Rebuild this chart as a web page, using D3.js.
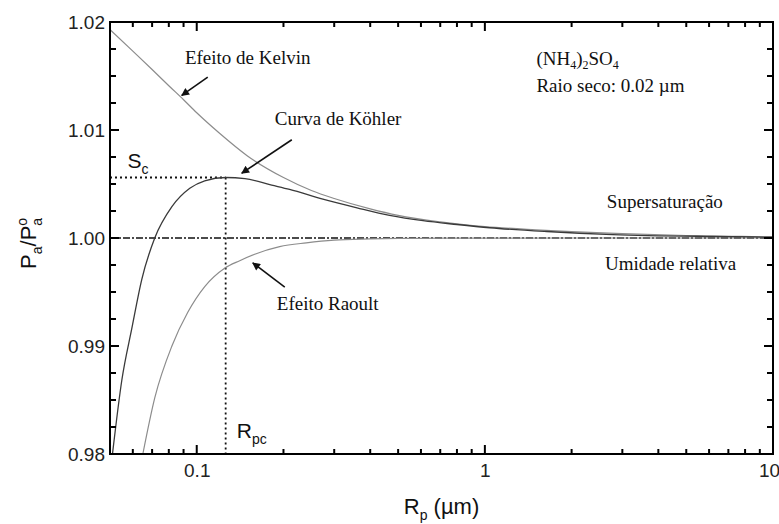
<!DOCTYPE html>
<html lang="pt">
<head>
  <meta charset="UTF-8">
  <title>Curva de Köhler</title>
  <style>
    body { margin: 0; background: #fff; }
    .axis path, .axis line { display: none; }
    .axis text { font-family: Arial, "Liberation Sans", sans-serif; font-size: 19px; fill: #222; }
    .note { font-family: "Times New Roman", "Liberation Serif", serif; font-size: 19px; fill: #111; }
    .sans { font-family: Arial, "Liberation Sans", sans-serif; fill: #111; }
  </style>
</head>
<body>
  <svg width="779" height="524"></svg>

  <script src="https://d3js.org/d3.v7.min.js"></script>
  <script>
    // raio da gota (µm) e razão de saturação
    const kelvinR = [0.05, 0.06, 0.07, 0.08, 0.09, 0.1, 0.12, 0.15, 0.2, 0.25, 0.3, 0.4, 0.5, 0.7, 1, 1.5, 2, 3, 5, 7, 10];
    const kelvinS = [1.0193, 1.0173, 1.0156, 1.0141, 1.0128, 1.0116, 1.0097, 1.0076, 1.0056, 1.0044, 1.00366, 1.0027, 1.0021, 1.0015, 1.00106, 1.00076, 1.00059, 1.00041, 1.00023, 1.00016, 1.0001];

    const kohlerR = [0.051, 0.055, 0.0595, 0.0645, 0.0715, 0.082, 0.0946, 0.1066, 0.126, 0.147, 0.182, 0.21, 0.274, 0.36, 0.467, 0.61, 0.8, 1.04, 1.64, 2.78, 6.2, 10];
    const kohlerS = [0.9800, 0.9869, 0.9916, 0.9962, 1.0000, 1.0029, 1.0046, 1.0053, 1.0056, 1.0055, 1.0049, 1.0045, 1.0036, 1.0028, 1.0021, 1.0016, 1.00125, 1.00095, 1.0006, 1.00032, 1.00014, 1.00008];

    const raoultR = [0.065, 0.0715, 0.082, 0.093, 0.1066, 0.125, 0.141, 0.159, 0.194, 0.24, 0.3, 0.4, 0.5, 0.7, 1, 2, 10];
    const raoultS = [0.9800, 0.9852, 0.9900, 0.9931, 0.9955, 0.9972, 0.9979, 0.9985, 0.9992, 0.99955, 0.9998, 0.99991, 0.99996, 0.99998, 0.999995, 1.0, 1.0];

    // ponto crítico
    const critical = { r: 0.126, s: 1.0056 };

    const xMajor = [0.1, 1, 10];
    const xMinor = [0.06, 0.07, 0.08, 0.09, 0.2, 0.3, 0.4, 0.5, 0.6, 0.7, 0.8, 0.9, 2, 3, 4, 5, 6, 7, 8, 9];
    const yMajor = [0.98, 0.99, 1.00, 1.01, 1.02];
    const yMinor = [0.9825, 0.985, 0.9875, 0.9925, 0.995, 0.9975, 1.0025, 1.005, 1.0075, 1.0125, 1.015, 1.0175];

    const mLeft = 110, mRight = 773, mTop = 22, mBottom = 454;

    const svg = d3.select("svg");
    const x = d3.scaleLog().domain([0.05, 10]).range([mLeft, mRight]);
    const y = d3.scaleLinear().domain([0.98, 1.02]).range([mBottom, mTop]);

    // rótulos dos eixos
    svg.append("g").attr("class", "axis")
       .attr("transform", `translate(0,${mBottom})`)
       .call(d3.axisBottom(x).tickValues(xMajor).tickSize(0).tickPadding(10).tickFormat(d3.format("")))
       .selectAll("text").attr("dx", d => d === 10 ? -4 : 0);
    svg.append("g").attr("class", "axis")
       .attr("transform", `translate(${mLeft},0)`)
       .call(d3.axisLeft(y).tickValues(yMajor).tickSize(0).tickPadding(5).tickFormat(d3.format(".2f")));

    svg.append("clipPath").attr("id", "clip")
       .append("rect").attr("x", mLeft).attr("y", mTop).attr("width", mRight - mLeft).attr("height", mBottom - mTop);
    const plot = svg.append("g").attr("clip-path", "url(#clip)");

    // linha S = 1
    plot.append("line")
        .attr("x1", x(0.05)).attr("x2", x(10))
        .attr("y1", y(1)).attr("y2", y(1))
        .attr("stroke", "#111").attr("stroke-width", 1.5)
        .attr("stroke-dasharray", "7,2,2,2");

    // linhas pontilhadas do ponto crítico
    plot.append("line")
        .attr("x1", x(0.05)).attr("x2", x(critical.r))
        .attr("y1", y(critical.s)).attr("y2", y(critical.s))
        .attr("stroke", "#111").attr("stroke-width", 1.8).attr("stroke-dasharray", "2,3");
    plot.append("line")
        .attr("x1", x(critical.r)).attr("x2", x(critical.r))
        .attr("y1", y(critical.s)).attr("y2", y(0.98))
        .attr("stroke", "#111").attr("stroke-width", 1.8).attr("stroke-dasharray", "2,3");

    const line = d3.line().x(d => x(d[0])).y(d => y(d[1])).curve(d3.curveMonotoneX);
    const series = [
      { r: kelvinR, s: kelvinS, color: "#8c8c8c", w: 1.2 },
      { r: raoultR, s: raoultS, color: "#8c8c8c", w: 1.2 },
      { r: kohlerR, s: kohlerS, color: "#3a3a3a", w: 1.3 }
    ];
    plot.selectAll("path.curve")
        .data(series)
        .join("path")
        .attr("class", "curve")
        .attr("fill", "none")
        .attr("stroke", d => d.color)
        .attr("stroke-width", d => d.w)
        .attr("d", d => line(d.r.map((v, i) => [v, d.s[i]])));

    // setas
    svg.append("defs").append("marker")
       .attr("id", "arrow")
       .attr("viewBox", "0 0 10 10")
       .attr("refX", 9).attr("refY", 5)
       .attr("markerUnits", "userSpaceOnUse")
       .attr("markerWidth", 11).attr("markerHeight", 8)
       .attr("orient", "auto")
       .append("path").attr("d", "M0,0L10,5L0,10Z").attr("fill", "#111");

    const arrows = [
      { from: [0.1092, 1.0149], to: [0.0887, 1.0132] },
      { from: [0.2138, 1.0091], to: [0.1433, 1.0060] },
      { from: [0.2021, 0.99546], to: [0.1565, 0.99769] }
    ];
    svg.append("g").selectAll("line")
       .data(arrows)
       .join("line")
       .attr("x1", d => x(d.from[0])).attr("y1", d => y(d.from[1]))
       .attr("x2", d => x(d.to[0])).attr("y2", d => y(d.to[1]))
       .attr("stroke", "#111").attr("stroke-width", 1.6)
       .attr("marker-end", "url(#arrow)");

    // textos
    const notes = [
      { t: "Efeito de Kelvin", r: 0.091, s: 1.0161 },
      { t: "Curva de Köhler", r: 0.1866, s: 1.01046 },
      { t: "Efeito Raoult", r: 0.1896, s: 0.99333 },
      { t: "Supersaturação", r: 2.65, s: 1.0028 },
      { t: "Umidade relativa", r: 2.61, s: 0.99704 },
      { t: "Raio seco: 0.02 µm", r: 1.51, s: 1.0135 }
    ];
    svg.append("g").selectAll("text")
       .data(notes)
       .join("text")
       .attr("class", "note")
       .attr("x", d => x(d.r)).attr("y", d => y(d.s))
       .text(d => d.t);

    const nh = svg.append("text").attr("class", "note")
       .attr("x", x(1.51)).attr("y", y(1.016));
    nh.append("tspan").text("(NH");
    nh.append("tspan").attr("font-size", 12).attr("dy", 4).text("4");
    nh.append("tspan").attr("dy", -4).text(")");
    nh.append("tspan").attr("font-size", 12).attr("dy", 4).text("2");
    nh.append("tspan").attr("dy", -4).text("SO");
    nh.append("tspan").attr("font-size", 12).attr("dy", 4).text("4");

    const sc = svg.append("text").attr("class", "sans").attr("font-size", 21)
       .attr("x", x(0.0575)).attr("y", y(1.0065));
    sc.append("tspan").text("S");
    sc.append("tspan").attr("font-size", 14).attr("dy", 6).text("c");

    const rpc = svg.append("text").attr("class", "sans").attr("font-size", 21)
       .attr("x", x(0.1377)).attr("y", y(0.98148));
    rpc.append("tspan").text("R");
    rpc.append("tspan").attr("font-size", 14).attr("dy", 6).text("pc");

    // títulos dos eixos
    const xt = svg.append("text").attr("class", "sans").attr("font-size", 22)
       .attr("text-anchor", "middle")
       .attr("x", (mLeft + mRight) / 2).attr("y", 514);
    xt.append("tspan").text("R");
    xt.append("tspan").attr("font-size", 14).attr("dy", 6).text("p");
    xt.append("tspan").attr("dy", -6).text(" (µm)");

    const yt = svg.append("text").attr("class", "sans").attr("font-size", 22)
       .attr("text-anchor", "middle")
       .attr("transform", `translate(36,${y(0.9995)}) rotate(-90)`);
    yt.append("tspan").text("P");
    yt.append("tspan").attr("font-size", 14).attr("dy", 6).text("a");
    yt.append("tspan").attr("dy", -6).text("/P");
    yt.append("tspan").attr("font-size", 14).attr("dy", -9).text("o");
    yt.append("tspan").attr("font-size", 14).attr("dx", -8).attr("dy", 15).text("a");

    // ticks para dentro nos quatro lados (desenhados por último)
    const xTicks = xMajor.map(v => ({ v, len: 9 })).concat(xMinor.map(v => ({ v, len: 5 })));
    const yTicks = yMajor.map(v => ({ v, len: 9 })).concat(yMinor.map(v => ({ v, len: 6 })));
    svg.append("g").selectAll("line").data(xTicks).join("line")
       .attr("x1", d => x(d.v)).attr("x2", d => x(d.v))
       .attr("y1", mBottom).attr("y2", d => mBottom - d.len)
       .attr("stroke", "#000").attr("stroke-width", 2);
    svg.append("g").selectAll("line").data(xTicks).join("line")
       .attr("x1", d => x(d.v)).attr("x2", d => x(d.v))
       .attr("y1", mTop).attr("y2", d => mTop + d.len)
       .attr("stroke", "#000").attr("stroke-width", 2);
    svg.append("g").selectAll("line").data(yTicks).join("line")
       .attr("y1", d => y(d.v)).attr("y2", d => y(d.v))
       .attr("x1", mLeft).attr("x2", d => mLeft + d.len)
       .attr("stroke", "#000").attr("stroke-width", 2);
    svg.append("g").selectAll("line").data(yTicks).join("line")
       .attr("y1", d => y(d.v)).attr("y2", d => y(d.v))
       .attr("x1", mRight).attr("x2", d => mRight - d.len)
       .attr("stroke", "#000").attr("stroke-width", 2);

    svg.append("rect")
       .attr("x", mLeft).attr("y", mTop)
       .attr("width", mRight - mLeft).attr("height", mBottom - mTop)
       .attr("fill", "none").attr("stroke", "#000").attr("stroke-width", 2);
  </script>
</body>
</html>
